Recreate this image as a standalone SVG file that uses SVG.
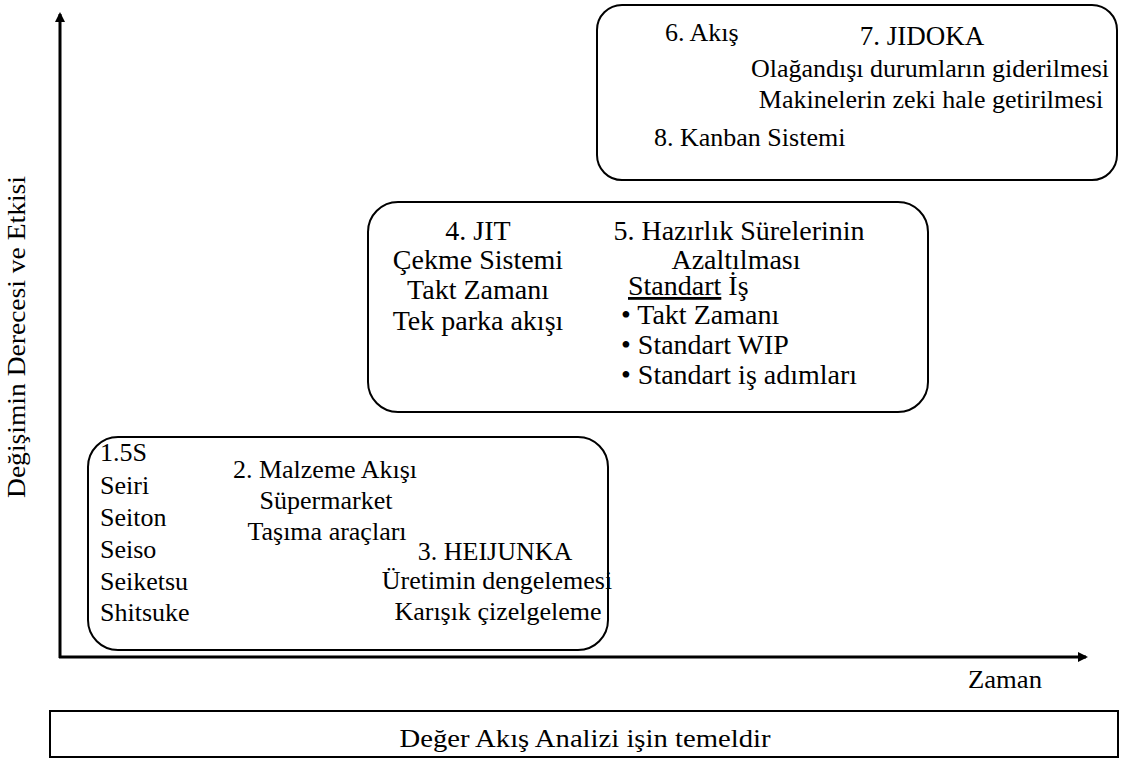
<svg xmlns="http://www.w3.org/2000/svg" width="1123" height="763" viewBox="0 0 1123 763">
<style>
text{font-family:"Liberation Serif","Times New Roman",serif;font-size:26px;fill:#000}
.b2 text{font-size:28px}
.box{fill:#fff;stroke:#000;stroke-width:2}
.axis{stroke:#000;stroke-width:3;fill:none}
.c{text-anchor:middle}
</style>
<defs>
<marker id="ah" markerWidth="10" markerHeight="10" refX="8" refY="5" orient="auto" markerUnits="userSpaceOnUse">
<path d="M0,0 L10,5 L0,10 Z" fill="#000"/>
</marker>
<marker id="ah2" markerWidth="14" markerHeight="14" refX="12" refY="7" orient="auto" markerUnits="userSpaceOnUse">
<path d="M0,0 L14,7 L0,14 Z" fill="#000"/>
</marker>
</defs>
<rect width="1123" height="763" fill="#fff"/>
<g id="connectors">
<line class="axis" x1="60" y1="658" x2="60" y2="14" marker-end="url(#ah)"/>
<line class="axis" x1="59" y1="657" x2="1086" y2="657" marker-end="url(#ah)"/>
<line x1="578" y1="297" x2="610" y2="297" stroke="#000" stroke-width="2.5" marker-end="url(#ah2)"/>
</g>
<g id="ylabel"><text class="c" transform="translate(25,337) rotate(-90)" textLength="322" lengthAdjust="spacingAndGlyphs">Değişimin Derecesi ve Etkisi</text></g>
<g id="xlabel"><text class="c" x="1005" y="688" textLength="74" lengthAdjust="spacingAndGlyphs">Zaman</text></g>
<g id="stage3">
<rect class="box" x="597" y="5" width="520" height="175" rx="25"/>
<text x="665" y="41">6. Akış</text>
<text class="c" x="922" y="45" style="font-size:27px">7. JIDOKA</text>
<text class="c" x="930" y="77">Olağandışı durumların giderilmesi</text>
<text class="c" x="931" y="108">Makinelerin zeki hale getirilmesi</text>
<text x="654" y="146">8. Kanban Sistemi</text>
</g>
<g id="stage2" class="b2">
<rect class="box" x="368" y="202" width="560" height="210" rx="30"/>
<text class="c" x="478" y="240">4. JIT</text>
<text class="c" x="478" y="269">Çekme Sistemi</text>
<text class="c" x="478" y="299">Takt Zamanı</text>
<text class="c" x="478" y="330">Tek parka akışı</text>
<text class="c" x="739" y="240">5. Hazırlık Sürelerinin</text>
<text class="c" x="736" y="269">Azaltılması</text>
<text x="628" y="295"><tspan text-decoration="underline">Standart</tspan> İş</text>
<text x="621" y="324">• Takt Zamanı</text>
<text x="621" y="354">• Standart WIP</text>
<text x="621" y="384">• Standart iş adımları</text>
</g>
<g id="stage1">
<rect class="box" x="88" y="437" width="520" height="213" rx="30"/>
<text x="100" y="461">1.5S</text>
<text x="100" y="494">Seiri</text>
<text x="100" y="526">Seiton</text>
<text x="100" y="558">Seiso</text>
<text x="100" y="590">Seiketsu</text>
<text x="100" y="621">Shitsuke</text>
<text class="c" x="325" y="478">2. Malzeme Akışı</text>
<text class="c" x="326" y="509">Süpermarket</text>
<text class="c" x="327" y="540">Taşıma araçları</text>
<text class="c" x="495" y="560">3. HEIJUNKA</text>
<text class="c" x="497" y="589">Üretimin dengelemesi</text>
<text class="c" x="498" y="620">Karışık çizelgeleme</text>
</g>
<g id="footer">
<rect x="50" y="711" width="1068" height="46" fill="#fff" stroke="#000" stroke-width="2"/>
<text class="c" x="585" y="747" textLength="371" lengthAdjust="spacingAndGlyphs">Değer Akış Analizi işin temeldir</text>
</g>
</svg>
